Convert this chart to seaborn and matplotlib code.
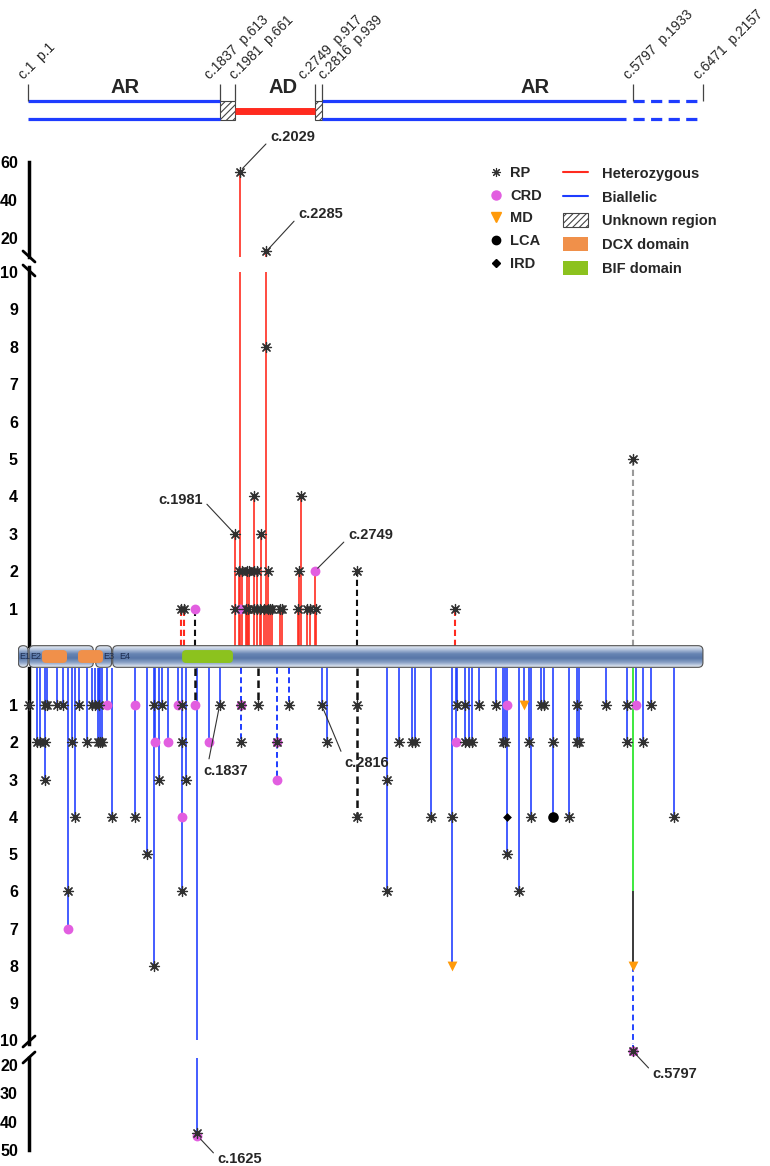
import numpy as np
import pandas as pd
import matplotlib
matplotlib.use("Agg")
import matplotlib.pyplot as plt
import seaborn as sns
from matplotlib.patches import FancyBboxPatch, Rectangle, Patch
from matplotlib.lines import Line2D
from matplotlib.colors import LinearSegmentedColormap

sns.set_style("white")
plt.rcParams["font.family"] = ["Liberation Sans", "DejaVu Sans"]
plt.rcParams["hatch.linewidth"] = 0.8

# ---------------- data ----------------
# header: inheritance regions along the cDNA
head_pos = [1, 1837, 1981, 2749, 2816, 5797, 6471]
head_lbl = ["c.1  p.1", "c.1837  p.613", "c.1981  p.661", "c.2749  p.917",
            "c.2816  p.939", "c.5797  p.1933", "c.6471  p.2157"]
head_nudge = [-4, -10, 0, -11, 2, -4, -4]  # label shift in pixels
mode_lbl = ["AR", "AD", "AR"]
mode_x = [930, 2445, 4860]
solid_start = [1, 2816]
solid_end = [1837, 5730]
dash_start = [5797]
dash_end = [6471]
unk_start = [1837, 2749]
unk_end = [1981, 2816]
ad_start, ad_end = 1981, 2749

# gene model
exon_start = [-93, 10, 649, 812]
exon_end = [0, 626, 802, 6471]
exon_lbl = ["E1", "E2", "E3", "E4"]
exon_lbl_x = [-88, 22, 722, 870]
dcx_start = [134, 479]
dcx_end = [374, 719]
bif_start = [1477]
bif_end = [1965]

# heterozygous (upper) stems
up_het_pos = [1981, 2023, 2029, 2049, 2087, 2097, 2112, 2122, 2170, 2198, 2224, 2234, 2265,
              2285, 2298, 2320, 2342, 2416, 2438, 2591, 2598, 2614, 2678, 2704, 2749, 2758]
up_het_n = [3, 2, 55, 2, 1, 2, 1, 2, 4, 2, 1, 3, 1, 13, 2, 1, 1, 1, 1, 1, 2, 4, 1, 1, 2, 1]
up_dash_pos = [1467, 1496, 1601, 3154, 4094, 5797]
up_dash_n = [1, 1, 1, 2, 1, 5]
up_dash_kind = ["het", "het", "unk", "unk", "het", "grey"]

up_rp_pos = [1467, 1496, 1981, 1981, 2023, 2029, 2049, 2087, 2097, 2112, 2122, 2170, 2170, 2170,
             2198, 2198, 2224, 2234, 2265, 2285, 2285, 2298, 2298, 2320, 2342, 2416, 2438, 2591,
             2598, 2614, 2678, 2704, 2758, 3154, 4094, 5797]
up_rp_n = [1, 1, 1, 3, 2, 55, 2, 1, 2, 1, 2, 1, 2, 4, 1, 2, 1, 3, 1, 8, 13, 1, 2, 1, 1, 1, 1, 1,
           2, 4, 1, 1, 1, 2, 1, 5]
up_crd_pos = [1601, 2029, 2749]
up_crd_n = [1, 1, 2]

# biallelic (lower) stems
lo_bi_pos = [12, 86, 115, 163, 179, 275, 333, 386, 419, 451, 489, 569, 611, 642, 674, 684, 690,
             707, 760, 808, 1026, 1144, 1205, 1218, 1256, 1288, 1345, 1435, 1481, 1515, 1625,
             1735, 1837, 2816, 2864, 3439, 3557, 3684, 3710, 3861, 4068, 4103, 4116, 4186, 4231,
             4254, 4321, 4484, 4557, 4578, 4597, 4707, 4758, 4803, 4819, 4920, 4950, 5030, 5187,
             5260, 5285, 5541, 5745, 5829, 5893, 5973, 6193]
lo_bi_n = [1, 2, 2, 3, 1, 1, 1, 7, 2, 4, 1, 2, 1, 1, 2, 1, 2, 2, 1, 4, 4, 5, 8, 2, 3, 1, 2, 1, 6,
           3, 45, 2, 1, 1, 2, 6, 2, 2, 2, 4, 8, 2, 1, 2, 2, 2, 1, 1, 2, 2, 5, 6, 1, 2, 4, 1, 1, 4,
           4, 2, 2, 1, 2, 1, 2, 1, 4]
lo_dash_pos = [1601, 2040, 2202, 2387, 2505, 3154]
lo_dash_n = [1, 2, 1, 3, 1, 4]
lo_dash_kind = ["unk", "bi", "unk", "bi", "bi", "unk"]
# c.5797 stem: green / dark / dashed blue segments
seg_pos = 5797
seg_from = [0, 6, 8]
seg_to = [6, 8, 15]
seg_col = ["#3ee83e", "#3a3a3a", "#2445ff"]
seg_ls = ["-", "-", (0, (3, 2))]

lo_rp_pos = [12, 86, 115, 163, 163, 163, 179, 275, 333, 386, 419, 451, 489, 569, 611, 642, 674,
             684, 690, 707, 808, 1026, 1144, 1205, 1205, 1256, 1288, 1481, 1481, 1481, 1515, 1625,
             1837, 2040, 2040, 2202, 2387, 2505, 2816, 2864, 3154, 3154, 3439, 3439, 3557, 3684,
             3710, 3861, 4068, 4116, 4186, 4186, 4231, 4254, 4321, 4484, 4557, 4578, 4597, 4707,
             4803, 4819, 4920, 4950, 5030, 5187, 5260, 5260, 5285, 5541, 5745, 5745, 5797, 5893,
             5973, 6193]
lo_rp_n = [1, 2, 2, 1, 2, 3, 1, 1, 1, 6, 2, 4, 1, 2, 1, 1, 2, 1, 2, 2, 4, 4, 5, 1, 8, 3, 1, 1, 2,
           6, 3, 44, 1, 1, 2, 1, 2, 1, 1, 2, 1, 4, 3, 6, 2, 2, 2, 4, 4, 1, 1, 2, 2, 2, 1, 1, 2, 2,
           5, 6, 2, 4, 1, 1, 2, 4, 1, 2, 2, 1, 1, 2, 15, 2, 1, 4]
lo_crd_pos = [386, 760, 1026, 1218, 1345, 1435, 1481, 1601, 1625, 1735, 2040, 2387, 2387, 4103,
              4597, 5797, 5829]
lo_crd_n = [7, 1, 1, 2, 2, 1, 4, 1, 45, 2, 1, 2, 3, 2, 1, 15, 1]
lo_md_pos = [4068, 4758, 5797]
lo_md_n = [8, 1, 8]
lo_lca_pos = [5030]
lo_lca_n = [4]
lo_ird_pos = [4597]
lo_ird_n = [4]

# labelled variants
ann_lbl = ["c.2029", "c.2285", "c.1981", "c.2749", "c.1837", "c.2816", "c.1625", "c.5797"]
ann_pos = [2029, 2285, 1981, 2749, 1837, 2816, 1625, 5797]
ann_n = [55, 13, 3, 2, 1, 1, 45, 15]

# ---------------- styles ----------------
RED = "#ff2b1f"
BLUE = "#1e3cff"
RP_C = "#303030"
CRD_C = "#e25ee0"
MD_C = "#ff9a0a"
DCX_C = "#f0904a"
BIF_C = "#8cc21e"
DASH_COL = {"het": RED, "unk": "#111111", "bi": BLUE, "grey": "#9a9a9a"}
MARK = {
    "RP": dict(marker=(8, 2, 0), s=52, color=RP_C, linewidth=0.9, zorder=6),
    "CRD": dict(marker="o", s=50, color=CRD_C, linewidth=0, zorder=5),
    "MD": dict(marker="v", s=50, color=MD_C, linewidth=0, zorder=5),
    "LCA": dict(marker="o", s=58, color="black", linewidth=0, zorder=5),
    "IRD": dict(marker="D", s=20, color="black", linewidth=0, zorder=5),
}

W, H = 770.0, 1166.0
XLIM = (-96, 6558)
PX = (XLIM[1] - XLIM[0]) / 694.0  # data units per pixel


def box(top_px, bottom_px):
    return [18 / W, 1 - bottom_px / H, 694 / W, (bottom_px - top_px) / H]


def marks_frame(groups):
    parts = [pd.DataFrame({"pos": p, "n": n, "phen": ph}) for ph, p, n in groups]
    return pd.concat(parts, ignore_index=True)


up_df = marks_frame([("RP", up_rp_pos, up_rp_n), ("CRD", up_crd_pos, up_crd_n)])
lo_df = marks_frame([("RP", lo_rp_pos, lo_rp_n), ("CRD", lo_crd_pos, lo_crd_n),
                     ("MD", lo_md_pos, lo_md_n), ("LCA", lo_lca_pos, lo_lca_n),
                     ("IRD", lo_ird_pos, lo_ird_n)])


def draw_marks(ax, df):
    for ph, g in df.groupby("phen"):
        sns.scatterplot(data=g, x="pos", y="n", ax=ax, legend=False, clip_on=False, **MARK[ph])


def value_axis(ax, ticks, lo, hi):
    ax.set_xlim(XLIM)
    ax.patch.set_visible(False)
    for s in ["top", "right", "bottom"]:
        ax.spines[s].set_visible(False)
    sp = ax.spines["left"]
    sp.set_position(("data", 10))
    sp.set_linewidth(2.5)
    sp.set_color("black")
    sp.set_bounds(lo, hi)
    ax.set_yticks(ticks)
    ax.set_yticklabels([str(t) for t in ticks], fontweight="bold", fontsize=11.5)
    ax.tick_params(axis="y", direction="out", length=7, width=2.2, pad=1, colors="black")
    ax.set_xticks([])
    ax.set_xlabel("")
    ax.set_ylabel("")


fig = plt.figure(figsize=(7.7, 11.66), dpi=100)

# ---------------- header ----------------
ax_h = fig.add_axes(box(0, 130))
ax_h.set_xlim(XLIM)
ax_h.set_ylim(130, 0)
ax_h.axis("off")
for yy in (101, 119):
    ax_h.hlines([yy] * len(solid_start), solid_start, solid_end, color=BLUE, lw=2.3)
    ax_h.hlines([yy] * len(dash_start), dash_start, dash_end, color=BLUE, lw=2.3,
                linestyles=(0, (3.5, 2)))
ax_h.hlines(111, ad_start, ad_end, color=RED, lw=5)
for s, e in zip(unk_start, unk_end):
    ax_h.add_patch(Rectangle((s, 101), e - s, 19, fc="white", ec="#444", lw=0.8, hatch="/////"))
ax_h.vlines(head_pos, 84, 101, color="#444", lw=0.9)
for x, t, dx in zip(head_pos, head_lbl, head_nudge):
    ax_h.text(x + dx * PX, 80, t, rotation=45, rotation_mode="anchor", ha="left",
              va="baseline", fontsize=10)
for x, t in zip(mode_x, mode_lbl):
    ax_h.text(x, 93, t, ha="center", va="baseline", fontsize=14.5, fontweight="bold")

# ---------------- upper (heterozygous) ----------------
ax_top = fig.add_axes(box(162, 257))
ax_top.set_ylim(10, 60)
ax_up = fig.add_axes(box(267, 646))
ax_up.set_ylim(0, 10.13)

for ax, cap in ((ax_up, 10), (ax_top, 100)):
    ax.vlines(up_het_pos, 0, np.minimum(up_het_n, cap), color=RED, lw=1.4, alpha=0.85, zorder=2)
    for p, n, k in zip(up_dash_pos, up_dash_n, up_dash_kind):
        ax.vlines(p, 0, min(n, cap), color=DASH_COL[k], lw=1.5, linestyles=(0, (3, 1.8)), zorder=2)
draw_marks(ax_up, up_df[up_df.n <= 10])
draw_marks(ax_top, up_df[up_df.n > 10])
value_axis(ax_top, [20, 40, 60], 10, 60)
value_axis(ax_up, list(range(1, 11)), 0, 10.13)

# ---------------- gene bar ----------------
ax_g = fig.add_axes(box(645, 668))
cmap_bar = LinearSegmentedColormap.from_list(
    "bar", ["#f4f7fb", "#b3c3dc", "#6784b3", "#5877a8", "#8ba2c6", "#e6ecf4"])
grad = np.linspace(0, 1, 64).reshape(-1, 1)
asp = 0.0045
for s, e in zip(exon_start, exon_end):
    p = FancyBboxPatch((s, 0.03), e - s, 0.94, boxstyle="round,pad=0,rounding_size=45",
                       mutation_aspect=asp, fc="none", ec="#505050", lw=0.8, zorder=3)
    ax_g.add_patch(p)
    im = ax_g.imshow(grad, extent=(s, e, 0.03, 0.97), aspect="auto", cmap=cmap_bar,
                     origin="upper", zorder=2)
    im.set_clip_path(p)
for s, e in zip(dcx_start, dcx_end):
    ax_g.add_patch(FancyBboxPatch((s, 0.22), e - s, 0.56, boxstyle="round,pad=0,rounding_size=40",
                                  mutation_aspect=asp, fc=DCX_C, ec="none", zorder=4))
for s, e in zip(bif_start, bif_end):
    ax_g.add_patch(FancyBboxPatch((s, 0.22), e - s, 0.56, boxstyle="round,pad=0,rounding_size=40",
                                  mutation_aspect=asp, fc=BIF_C, ec="none", zorder=4))
for x, t in zip(exon_lbl_x, exon_lbl):
    ax_g.text(x, 0.5, t, fontsize=6.5, color="#1d2d50", ha="left", va="center", zorder=5)
ax_g.set_xlim(XLIM)
ax_g.set_ylim(0, 1)
ax_g.axis("off")

# ---------------- lower (biallelic) ----------------
ax_lo = fig.add_axes(box(668, 1044))
ax_lo.set_ylim(10.1, 0)
ax_bot = fig.add_axes(box(1058, 1150))
ax_bot.set_ylim(50, 17.5)

for ax, cap in ((ax_lo, 10), (ax_bot, 100)):
    ax.vlines(lo_bi_pos, 0, np.minimum(lo_bi_n, cap), color=BLUE, lw=1.3, alpha=0.9, zorder=2)
    for p, n, k in zip(lo_dash_pos, lo_dash_n, lo_dash_kind):
        lw = 1.8 if k == "unk" else 1.4
        ax.vlines(p, 0, min(n, cap), color=DASH_COL[k], lw=lw, linestyles=(0, (3, 1.8)), zorder=2)
for a, b, c, ls in zip(seg_from, seg_to, seg_col, seg_ls):
    ax_lo.vlines(seg_pos, a, min(b, 10.1), color=c, lw=1.4, linestyles=ls, zorder=2)
    if b > 10.1:
        ax_bot.vlines(seg_pos, 13, b, color=c, lw=1.4, linestyles=ls, zorder=2, clip_on=False)
draw_marks(ax_lo, lo_df[lo_df.n <= 10])
draw_marks(ax_bot, lo_df[lo_df.n > 10])
value_axis(ax_lo, list(range(1, 11)), 0, 10.1)
value_axis(ax_bot, [20, 30, 40, 50], 17.5, 50)

# ---------------- annotations ----------------
ann_ax = [ax_top, ax_top, ax_up, ax_up, ax_lo, ax_lo, ax_bot, ax_bot]
ann_off = [(22, 25), (23, 27), (-23, 24.5), (24, 26), (-11.5, -47), (16.5, -41.5),
           (14.5, -16.5), (14.5, -16.5)]
ann_ha = ["left", "left", "right", "left", "left", "left", "left", "left"]
ann_rel = [(0, 0.3), (0, 0.3), (1, 0.5), (0, 0.3), (0.1, 1), (0, 0.7), (0, 0.6), (0, 0.6)]
for ax, t, p, n, off, ha, rel in zip(ann_ax, ann_lbl, ann_pos, ann_n, ann_off, ann_ha, ann_rel):
    ax.annotate(t, xy=(p, n), xytext=off, textcoords="offset points", ha=ha, va="center",
                fontsize=10.5, fontweight="bold", annotation_clip=False, zorder=8,
                arrowprops=dict(arrowstyle="-", color="#333", lw=0.8, shrinkA=1, shrinkB=3,
                                relpos=rel))

# ---------------- axis breaks ----------------
for (x0, y0, x1, y1) in [(23, 251, 35, 262), (23, 265, 35, 276),
                         (23, 1047, 35, 1036), (23, 1063, 35, 1052)]:
    fig.add_artist(Line2D([x0 / W, x1 / W], [1 - y0 / H, 1 - y1 / H], color="black", lw=2,
                          transform=fig.transFigure))

# ---------------- legends ----------------
h1 = [Line2D([], [], ls="", marker=(8, 2, 0), color=RP_C, markersize=6.5, mew=0.8),
      Line2D([], [], ls="", marker="o", color=CRD_C, markersize=6.5),
      Line2D([], [], ls="", marker="v", color=MD_C, markersize=6.5),
      Line2D([], [], ls="", marker="o", color="black", markersize=6),
      Line2D([], [], ls="", marker="D", color="black", markersize=4)]
fig.legend(h1, ["RP", "CRD", "MD", "LCA", "IRD"], loc="upper left",
           bbox_to_anchor=(489 / W, 1 - 166 / H), frameon=False, handlelength=1.0,
           handletextpad=0.45, labelspacing=0.6, borderaxespad=0, borderpad=0,
           prop=dict(weight="bold", size=10.5))
h2 = [Line2D([], [], color=RED, lw=1.5), Line2D([], [], color=BLUE, lw=1.5),
      Patch(fc="white", ec="#444", hatch="/////", lw=0.8),
      Patch(fc=DCX_C, ec="none"), Patch(fc=BIF_C, ec="none")]
fig.legend(h2, ["Heterozygous", "Biallelic", "Unknown region", "DCX domain", "BIF domain"],
           loc="upper left", bbox_to_anchor=(563 / W, 1 - 166 / H), frameon=False,
           handlelength=1.7, handleheight=1.1, handletextpad=0.95, labelspacing=0.6,
           borderaxespad=0, borderpad=0, prop=dict(weight="bold", size=10.5))

fig.savefig("out.png", dpi=100)
